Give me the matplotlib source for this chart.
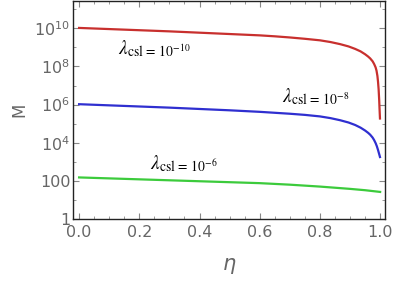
import numpy as np
import matplotlib
matplotlib.use("Agg")
import matplotlib.pyplot as plt
from matplotlib.ticker import FixedLocator, FixedFormatter, NullFormatter

# Data (eta, log10 M)
eta_red = [0.0, 0.1, 0.2, 0.3, 0.4, 0.5, 0.6, 0.65, 0.7, 0.75, 0.8, 0.835, 0.867, 0.895, 0.917,
           0.935, 0.95, 0.96, 0.967, 0.975, 0.98, 0.985, 0.988, 0.991, 0.993, 0.995, 0.997,
           0.998, 0.9995]
logM_red = [10.02, 9.96, 9.90, 9.84, 9.77, 9.70, 9.63, 9.58, 9.52, 9.45, 9.37, 9.28, 9.17, 9.05,
            8.92, 8.79, 8.64, 8.52, 8.42, 8.27, 8.13, 7.95, 7.78, 7.50, 7.20, 6.80, 6.20,
            5.80, 5.27]

eta_blue = [0.0, 0.1, 0.2, 0.3, 0.4, 0.5, 0.6, 0.65, 0.7, 0.75, 0.8, 0.835, 0.867, 0.895, 0.917,
            0.935, 0.95, 0.96, 0.967, 0.975, 0.98, 0.985, 0.989, 0.993, 0.996, 0.998, 0.9995]
logM_blue = [6.02, 5.96, 5.90, 5.84, 5.77, 5.70, 5.62, 5.57, 5.52, 5.46, 5.38, 5.29, 5.18, 5.06,
             4.93, 4.79, 4.64, 4.52, 4.42, 4.27, 4.14, 3.98, 3.82, 3.62, 3.45, 3.34, 3.25]

eta_green = [0.0, 0.1, 0.2, 0.3, 0.4, 0.5, 0.6, 0.7, 0.8, 0.9, 0.95, 1.0]
logM_green = [2.18, 2.13, 2.08, 2.03, 1.98, 1.93, 1.88, 1.80, 1.70, 1.58, 1.51, 1.42]

labels = [r'$\lambda_{\rm csl\,=\,10^{-10}}$', r'$\lambda_{\rm csl\,=\,10^{-8}}$', r'$\lambda_{\rm csl\,=\,10^{-6}}$']
xticks = [0.0, 0.2, 0.4, 0.6, 0.8, 1.0]
xticklabels = ['0.0', '0.2', '0.4', '0.6', '0.8', '1.0']
yticks = [1, 1e2, 1e4, 1e6, 1e8, 1e10]
yticklabels = ['1', '100', r'$10^{4}$', r'$10^{6}$', r'$10^{8}$', r'$10^{10}$']

plt.rcParams['mathtext.fontset'] = 'dejavusans'
plt.rcParams['font.family'] = 'DejaVu Sans'

gray = '#666666'
fig = plt.figure(figsize=(3.95, 2.82), dpi=100)
ax = fig.add_axes([0.185, 0.2234, 0.79, 0.7736])

ax.semilogy(eta_red, 10 ** np.array(logM_red), color='#c8302e', lw=1.6)
ax.semilogy(eta_blue, 10 ** np.array(logM_blue), color='#2f2fd0', lw=1.6)
ax.semilogy(eta_green, 10 ** np.array(logM_green), color='#3ccb3c', lw=1.6)

ax.set_xlim(-0.02, 1.0166)
ax.set_ylim(1, 10 ** 11.44)

ax.xaxis.set_major_locator(FixedLocator(xticks))
ax.xaxis.set_major_formatter(FixedFormatter(xticklabels))
ax.xaxis.set_minor_locator(FixedLocator(np.arange(0, 1.001, 0.05)))
ax.xaxis.set_minor_formatter(NullFormatter())
ax.yaxis.set_major_locator(FixedLocator(yticks))
ax.yaxis.set_major_formatter(FixedFormatter(yticklabels))
ax.yaxis.set_minor_locator(FixedLocator([10.0 ** k for k in range(1, 12, 2)]))
ax.yaxis.set_minor_formatter(NullFormatter())

ax.tick_params(which='both', direction='in', top=True, right=True, color='#888888',
               labelcolor=gray, labelsize=11.5)
ax.tick_params(which='major', length=4, width=0.8)
ax.tick_params(which='minor', length=2.5, width=0.6)
ax.tick_params(axis='x', pad=4)
ax.tick_params(axis='y', pad=2)
for s in ax.spines.values():
    s.set_color('#222222')
    s.set_linewidth(1.0)

ax.set_ylabel('M', color=gray, fontsize=12, labelpad=4)
ax.set_xlabel(r'$\eta$', color=gray, fontsize=15, labelpad=12)

ax.text(0.13, 10 ** 8.95, labels[0], fontsize=14, ha='left', va='center', math_fontfamily='stix')
ax.text(0.675, 10 ** 6.4, labels[1], fontsize=14, ha='left', va='center', math_fontfamily='stix')
ax.text(0.235, 10 ** 2.9, labels[2], fontsize=14, ha='left', va='center', math_fontfamily='stix')

fig.savefig('out.png', dpi=100)
